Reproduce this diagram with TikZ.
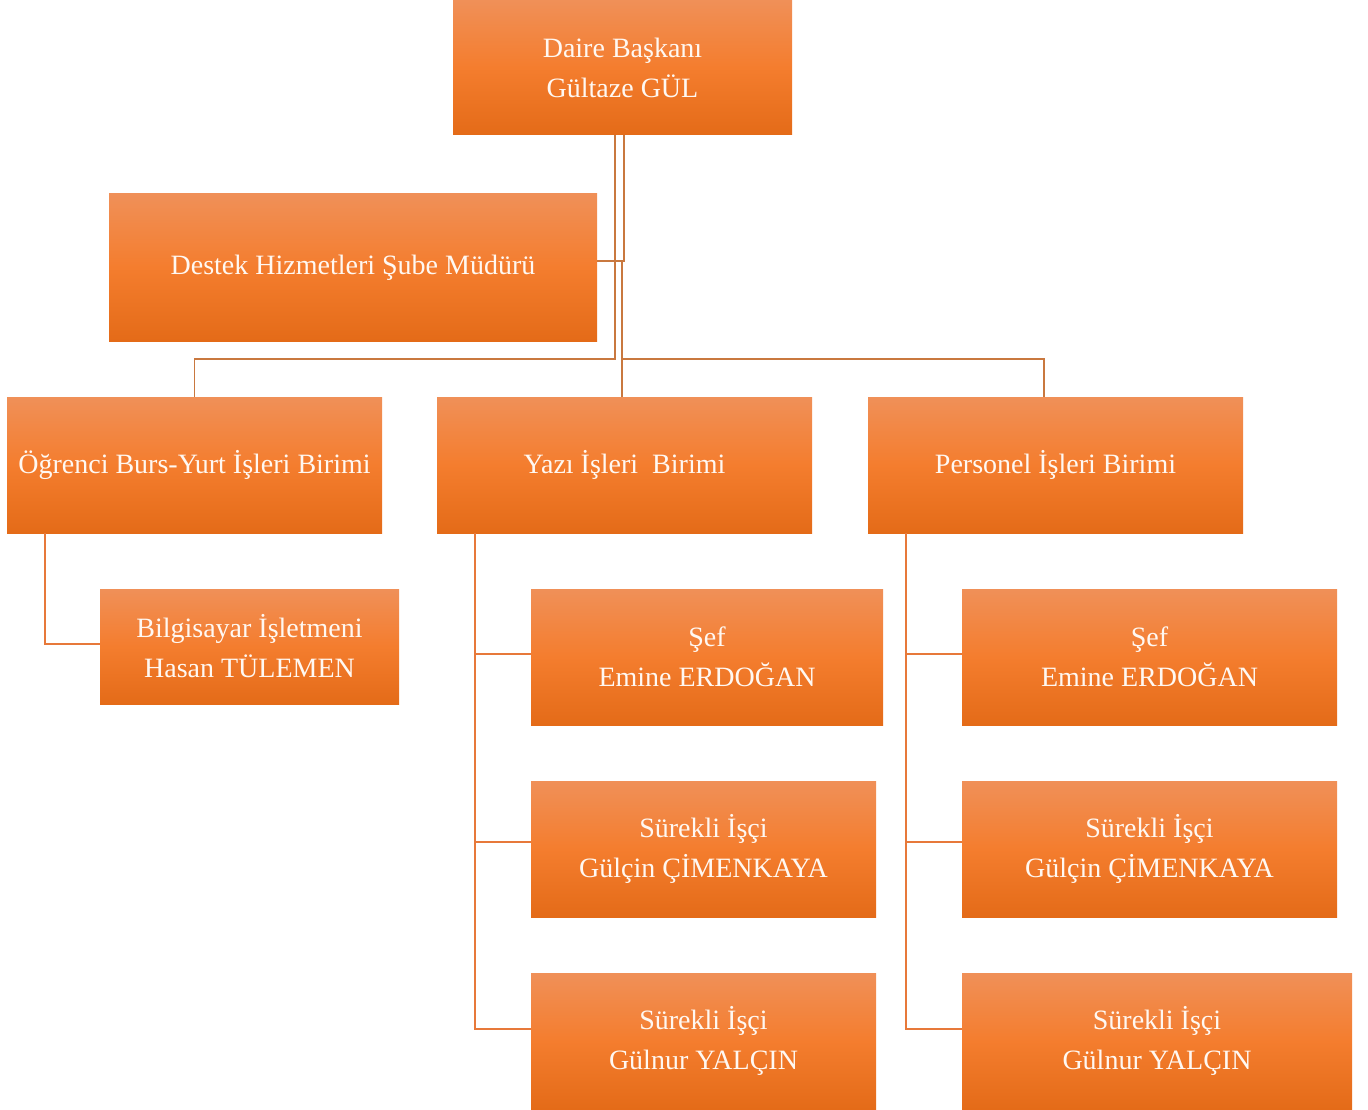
\documentclass[tikz,border=0pt]{standalone}
\usepackage{fontspec}
\setmainfont{Liberation Serif}
\definecolor{btop}{HTML}{F09058}
\definecolor{bmid}{HTML}{F47D2E}
\definecolor{bbot}{HTML}{E46B18}
\definecolor{lnA}{HTML}{C9783F}
\definecolor{lnB}{HTML}{E7793A}
\definecolor{txt}{HTML}{FFF8F2}
\tikzset{
  x=1pt,y=1pt,
  orgbox/.style={anchor=north west, inner sep=0pt, outer sep=0pt,
    top color=btop, bottom color=bbot, middle color=bmid,
    text=txt, align=center, font=\fontsize{28}{40}\selectfont},
  topconn/.style={draw=lnA, line width=1.6pt},
  subconn/.style={draw=lnB, line width=1.6pt}
}
\begin{document}
\begin{tikzpicture}
\useasboundingbox (0,0) rectangle (1368,-1110);
% boxes
\node[orgbox, minimum width=339, minimum height=135] (top) at (453,0) {Daire Başkanı\\Gültaze GÜL};
\node[orgbox, minimum width=488, minimum height=147] (destek) at (109,-194) {Destek Hizmetleri Şube Müdürü};
\node[orgbox, minimum width=375, minimum height=136] (ogr) at (7,-397) {Öğrenci Burs-Yurt İşleri Birimi};
\node[orgbox, minimum width=375, minimum height=136] (yazi) at (437,-397) {Yazı İşleri\ \ Birimi};
\node[orgbox, minimum width=375, minimum height=136] (pers) at (868,-397) {Personel İşleri Birimi};
\node[orgbox, minimum width=299, minimum height=115] (bilgi) at (100,-589) {Bilgisayar İşletmeni\\Hasan TÜLEMEN};
\node[orgbox, minimum width=352, minimum height=136] (ysef) at (531,-589) {Şef\\Emine ERDOĞAN};
\node[orgbox, minimum width=345, minimum height=136] (ysa) at (531,-781) {Sürekli İşçi\\Gülçin ÇİMENKAYA};
\node[orgbox, minimum width=345, minimum height=136] (ysb) at (531,-973) {Sürekli İşçi\\Gülnur YALÇIN};
\node[orgbox, minimum width=375, minimum height=136] (psef) at (962,-589) {Şef\\Emine ERDOĞAN};
\node[orgbox, minimum width=375, minimum height=136] (psa) at (962,-781) {Sürekli İşçi\\Gülçin ÇİMENKAYA};
\node[orgbox, minimum width=390, minimum height=136] (psb) at (962,-973) {Sürekli İşçi\\Gülnur YALÇIN};
% top-level connectors
\coordinate (hb) at ([xshift=-0.5pt]top.south |- 0,-261);
\draw[topconn] ([xshift=-7.5pt]top.south) -- ++(0,-224) -| (ogr.north);
\draw[topconn] ([xshift=1.5pt]top.south) |- ([yshift=6.5pt]destek.east);
\draw[topconn] (hb) -- (hb |- yazi.north);
\draw[topconn] (hb |- 0,-359) -| ([xshift=-11.5pt]pers.north);
% sub connectors
\draw[subconn] ([xshift=38pt]ogr.south west) |- ([yshift=2.5pt]bilgi.west);
\draw[subconn] ([xshift=38pt]yazi.south west) |- ([yshift=3pt]ysef.west);
\draw[subconn] ([xshift=38pt]yazi.south west) |- ([yshift=7pt]ysa.west);
\draw[subconn] ([xshift=38pt]yazi.south west) |- ([yshift=12pt]ysb.west);
\draw[subconn] ([xshift=38pt]pers.south west) |- ([yshift=3pt]psef.west);
\draw[subconn] ([xshift=38pt]pers.south west) |- ([yshift=7pt]psa.west);
\draw[subconn] ([xshift=38pt]pers.south west) |- ([yshift=12pt]psb.west);
\end{tikzpicture}
\end{document}
